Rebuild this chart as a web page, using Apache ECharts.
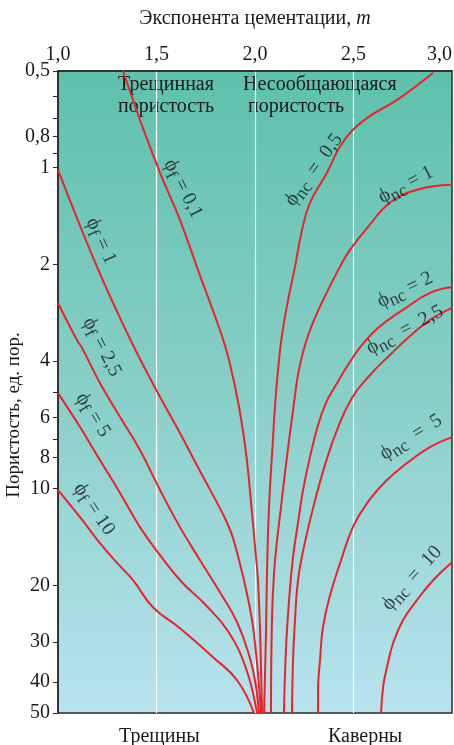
<!DOCTYPE html>
<html><head><meta charset="utf-8">
<script src="https://cdn.jsdelivr.net/npm/echarts@6/dist/echarts.min.js"></script>
<style>html,body{margin:0;padding:0;background:#fff}#c{width:454px;height:745px}</style>
</head><body><div id="c"></div>
<script>
// ---- data (m, porosity %) ----
const xTicks = [1.0, 1.5, 2.0, 2.5, 3.0];
const yLabelValues = [0.5, 0.8, 1, 2, 4, 6, 8, 10, 20, 30, 40, 50];
const yTickValues = [0.5, 0.6, 0.7, 0.8, 0.9, 1, 2, 4, 5, 6, 7, 8, 10, 20, 30, 40, 50];

const phiF_01 = [[1.330,0.50],[1.381,0.615],[1.416,0.710],[1.518,1.038],[1.619,1.454],[1.716,2.128],[1.822,3.204],[1.868,3.974],[1.919,5.569],[1.957,7.974],[1.982,11.42],[2.005,16.35],[2.015,19.29],[2.025,27.02],[2.036,50]];
const phiF_1 = [[1.000,1.017],[1.094,1.424],[1.198,2.038],[1.289,2.717],[1.388,3.646],[1.518,5.183],[1.619,6.714],[1.726,8.945],[1.827,11.67],[1.878,13.67],[1.919,16.71],[1.959,21.17],[1.985,25.70],[2.000,30.31],[2.018,39.53],[2.030,50]];
const phiF_25 = [[1.000,2.64],[1.096,3.443],[1.122,3.646],[1.213,4.688],[1.315,5.984],[1.416,7.584],[1.518,10.10],[1.619,13.18],[1.721,16.71],[1.822,21.02],[1.909,26.07],[1.970,33.04],[2.000,39.53],[2.020,50]];
const phiF_5 = [[1.000,5.04],[1.112,6.43],[1.213,8.15],[1.315,10.32],[1.416,13.18],[1.518,16.12],[1.629,19.57],[1.746,22.92],[1.863,27.82],[1.954,36.28],[2.010,50]];
const phiF_10 = [[1.000,10.10],[1.112,12.27],[1.213,14.79],[1.315,17.44],[1.381,19.29],[1.482,23.41],[1.619,27.22],[1.787,33.51],[1.909,39.53],[1.995,50]];

const phiNC_05 = [[2.904,0.506],[2.721,0.615],[2.584,0.69],[2.497,0.762],[2.431,0.861],[2.365,1.038],[2.279,1.287],[2.239,1.562],[2.203,2.038],[2.168,2.584],[2.137,3.32],[2.117,4.27],[2.102,5.49],[2.091,7.06],[2.071,11.42],[2.061,18.34],[2.056,27.61],[2.046,50]];
const phiNC_1 = [[3.000,1.131],[2.822,1.172],[2.685,1.287],[2.574,1.529],[2.482,1.803],[2.431,2.038],[2.371,2.404],[2.315,2.836],[2.274,3.275],[2.244,3.752],[2.218,4.425],[2.198,5.412],[2.173,7.059],[2.152,8.945],[2.132,11.42],[2.112,14.47],[2.096,18.6],[2.086,25.7],[2.081,50]];
const phiNC_2 = [[3.000,2.353],[2.888,2.457],[2.751,2.775],[2.624,3.157],[2.543,3.567],[2.472,4.118],[2.411,4.755],[2.360,5.412],[2.320,6.34],[2.279,7.974],[2.244,10.10],[2.218,12.81],[2.193,16.35],[2.173,22.26],[2.157,31.87],[2.147,50]];
const phiNC_25 = [[3.000,2.736],[2.888,2.98],[2.787,3.345],[2.685,3.833],[2.584,4.426],[2.492,5.22],[2.416,6.571],[2.355,8.45],[2.305,10.86],[2.264,13.76],[2.228,17.57],[2.213,20.72],[2.203,25.70],[2.193,34.25],[2.188,50]];
const phiNC_5 = [[3.000,6.909],[2.888,7.423],[2.772,8.325],[2.670,9.405],[2.569,11.09],[2.497,13.18],[2.437,16.71],[2.381,21.48],[2.345,27.02],[2.330,34.25],[2.320,42.48],[2.320,50]];
const phiNC_10 = [[3.000,16.95],[2.904,19.29],[2.822,22.26],[2.751,25.70],[2.701,30.31],[2.670,36.01],[2.650,41.57],[2.640,50]];

const curves = [phiF_01, phiF_1, phiF_25, phiF_5, phiF_10, phiNC_05, phiNC_1, phiNC_2, phiNC_25, phiNC_5, phiNC_10];
const curveNames = ['ϕf = 0,1','ϕf = 1','ϕf = 2,5','ϕf = 5','ϕf = 10','ϕnc = 0,5','ϕnc = 1','ϕnc = 2','ϕnc = 2,5','ϕnc = 5','ϕnc = 10'];
const curveSubs = ['f','f','f','f','f','nc','nc','nc','nc','nc','nc'];
const curveVals = ['0,1','1','2,5','5','10','0,5','1','2','2,5','5','10'];
const curveGaps = [' ',' ',' ',' ',' ','  ',' ',' ','  ','  ','  '];
// label anchor positions (m, porosity) and rotation
const labelAnchors = [[1.635,1.164],[1.218,1.691],[1.223,3.62],[1.178,5.90],[1.183,11.59],[2.299,1.016],[2.766,1.131],[2.761,2.404],[2.761,3.204],[2.792,6.909],[2.797,19.01]];
const labelRot = [-63,-66,-63,-58,-56,54,28,26,28,32,48];

const L = v => Math.log10(v);
const fmt = v => (Math.round(v * 10) / 10).toString().replace('.', ',');
const FONT = 'Liberation Serif';
const TXT = '#1a1a1a';

const series = curves.map((c, i) => ({
  name: curveNames[i], type: 'line', smooth: 0.45, showSymbol: false, symbol: 'none',
  lineStyle: { color: '#e8242b', width: 2 }, z: 3,
  data: c.map(p => [p[0], L(p[1])])
}));
series.push({
  type: 'scatter', symbolSize: 0, z: 5, silent: true,
  data: labelAnchors.map((p, i) => ({
    value: [p[0], L(p[1])],
    label: {
      show: true, position: 'inside', rotate: labelRot[i],
      formatter: '{p|ϕ}{s|' + curveSubs[i] + '}{t|' + curveGaps[i] + '=' + curveGaps[i] + curveVals[i] + '}',
      rich: {
        p: { fontFamily: FONT, fontSize: 21, color: TXT },
        s: { fontFamily: FONT, fontSize: 18, color: TXT, padding: [9, 0, 0, 0] },
        t: { fontFamily: FONT, fontSize: 20, color: TXT }
      }
    }
  }))
});

const chart = echarts.init(document.getElementById('c'));
chart.setOption({
  animation: false,
  backgroundColor: '#fff',
  grid: {
    left: 58, right: 2, top: 71, bottom: 32, show: true, containLabel: false, outerBoundsMode: 'none',
    backgroundColor: new echarts.graphic.LinearGradient(0, 0, 0, 1, [
      { offset: 0, color: '#5ec1ac' }, { offset: 0.5, color: '#88cfc8' }, { offset: 1, color: '#b8e3ee' }
    ]),
    borderColor: '#2a2a2a', borderWidth: 1.5
  },
  xAxis: {
    type: 'value', position: 'top', min: 1, max: 3, interval: 0.5,
    name: '{n|Экспонента цементации, }{i|m}', nameLocation: 'middle', nameGap: 42, nameMoveOverlap: false,
    nameTextStyle: { rich: {
      n: { fontFamily: FONT, fontSize: 20, color: TXT },
      i: { fontFamily: FONT, fontSize: 20, color: TXT, fontStyle: 'italic' } } },
    axisLine: { show: true, onZero: false, lineStyle: { color: '#2a2a2a', width: 1.5 } },
    axisTick: { show: false },
    axisLabel: { fontFamily: FONT, fontSize: 20, color: TXT, margin: 6,
      formatter: v => v.toFixed(1).replace('.', ','), alignMaxLabel: 'right' },
    splitLine: { show: true, showMinLine: false, showMaxLine: false, lineStyle: { color: '#ffffff', width: 1.2 } }
  },
  yAxis: {
    type: 'value', inverse: true, min: L(0.5), max: L(50),
    name: 'Пористость, ед. пор.', nameLocation: 'middle', nameGap: 34, nameMoveOverlap: false,
    nameTextStyle: { fontFamily: FONT, fontSize: 19, color: TXT, padding: [0, 46, 0, 0] },
    axisLine: { show: true, onZero: false, lineStyle: { color: '#2a2a2a', width: 1.5 } },
    axisTick: { show: true, length: 5, lineStyle: { color: '#2a2a2a' }, customValues: yTickValues.map(L) },
    axisLabel: { fontFamily: FONT, fontSize: 20, color: TXT, margin: 8,
      customValues: yLabelValues.map(L), formatter: v => fmt(Math.pow(10, v)) },
    splitLine: { show: false }
  },
  graphic: [
    { type: 'text', left: 118, top: 74, style: { text: 'Трещинная\nпористость', font: '20px "Liberation Serif"', fill: TXT, lineHeight: 22 } },
    { type: 'text', left: 243, top: 74, style: { text: 'Несообщающаяся\n пористость', font: '20px "Liberation Serif"', fill: TXT, lineHeight: 22 } },
    { type: 'text', left: 119, top: 727, style: { text: 'Трещины', font: '20px "Liberation Serif"', fill: TXT } },
    { type: 'text', left: 328, top: 727, style: { text: 'Каверны', font: '20px "Liberation Serif"', fill: TXT } }
  ],
  series: series
});
</script></body></html>
